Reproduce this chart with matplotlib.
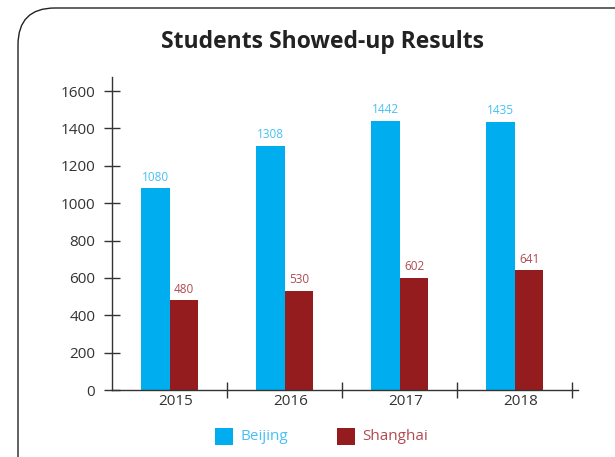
import matplotlib
matplotlib.use("Agg")
import matplotlib.pyplot as plt
from matplotlib.patches import FancyBboxPatch, Rectangle
import numpy as np

years = ["2015", "2016", "2017", "2018"]
beijing = [1080, 1308, 1442, 1435]
shanghai = [480, 530, 602, 641]
yticks = [0, 200, 400, 600, 800, 1000, 1200, 1400, 1600]

c_bj = "#00AEEF"
c_sh = "#941B1E"
c_bj_lbl = "#45C1F2"
c_sh_lbl = "#B04A50"

plt.rcParams['font.family'] = ['Open Sans', 'DejaVu Sans']

fig = plt.figure(figsize=(6.15, 4.57), dpi=100)
fig.patch.set_facecolor("white")

# rounded frame
frame = FancyBboxPatch((18 / 615, -60 / 457), 700 / 615, (457 - 8 + 60) / 457,
                       boxstyle="round,pad=0,rounding_size=0.06",
                       transform=fig.transFigure, fill=False,
                       edgecolor="#222222", linewidth=1.0, mutation_aspect=615 / 457)
fig.patches.append(frame)

ax = fig.add_axes([112 / 615, 1 - 390 / 457, (578 - 112) / 615, (390 - 77) / 457])
x = np.arange(len(years))
w = 0.25
b1 = ax.bar(x - w / 2, beijing, w, color=c_bj, zorder=2)
b2 = ax.bar(x + w / 2, shanghai, w, color=c_sh, zorder=2)

for rect, v in zip(b1, beijing):
    ax.text(rect.get_x() + rect.get_width() / 2, v + 25, str(v), ha="center", va="bottom",
            fontsize=8.5, color=c_bj_lbl)
for rect, v in zip(b2, shanghai):
    ax.text(rect.get_x() + rect.get_width() / 2, v + 25, str(v), ha="center", va="bottom",
            fontsize=8.5, color=c_sh_lbl)

ax.set_xlim(-0.5, 3.55)
ax.set_ylim(0, 1675)
ax.set_yticks(yticks)
ax.set_yticklabels([str(t) for t in yticks], fontsize=11, color="#333333")
ax.set_xticks(x + 0.5)
ax.set_xticklabels([])
ax.set_xticks(x + 0.05, minor=True)
ax.set_xticklabels(years, minor=True, fontsize=11, color="#333333")
ax.tick_params(axis="x", which="major", direction="inout", length=12, width=1, color="#333333")
ax.tick_params(axis="x", which="minor", length=0, pad=3)
ax.tick_params(axis="y", direction="inout", length=12, width=1, color="#333333", pad=6)
for s in ["top", "right"]:
    ax.spines[s].set_visible(False)
for s in ["left", "bottom"]:
    ax.spines[s].set_color("#333333")
    ax.spines[s].set_linewidth(1.0)

fig.text(323 / 615, 1 - 42 / 457, "Students Showed-up Results", ha="center", va="center",
         fontsize=16.5, fontweight="bold", color="#222222")

# legend
for (lx, label, col, tcol) in [(215, "Beijing", c_bj, c_bj_lbl), (337, "Shanghai", c_sh, c_sh_lbl)]:
    fig.patches.append(Rectangle((lx / 615, 1 - 445 / 457), 18 / 615, 17 / 457,
                                 transform=fig.transFigure, facecolor=col, edgecolor="none"))
    fig.text((lx + 25) / 615, 1 - 437 / 457, label, ha="left", va="center",
             fontsize=11, color=tcol)

fig.savefig("out.png", dpi=100, facecolor="white")
